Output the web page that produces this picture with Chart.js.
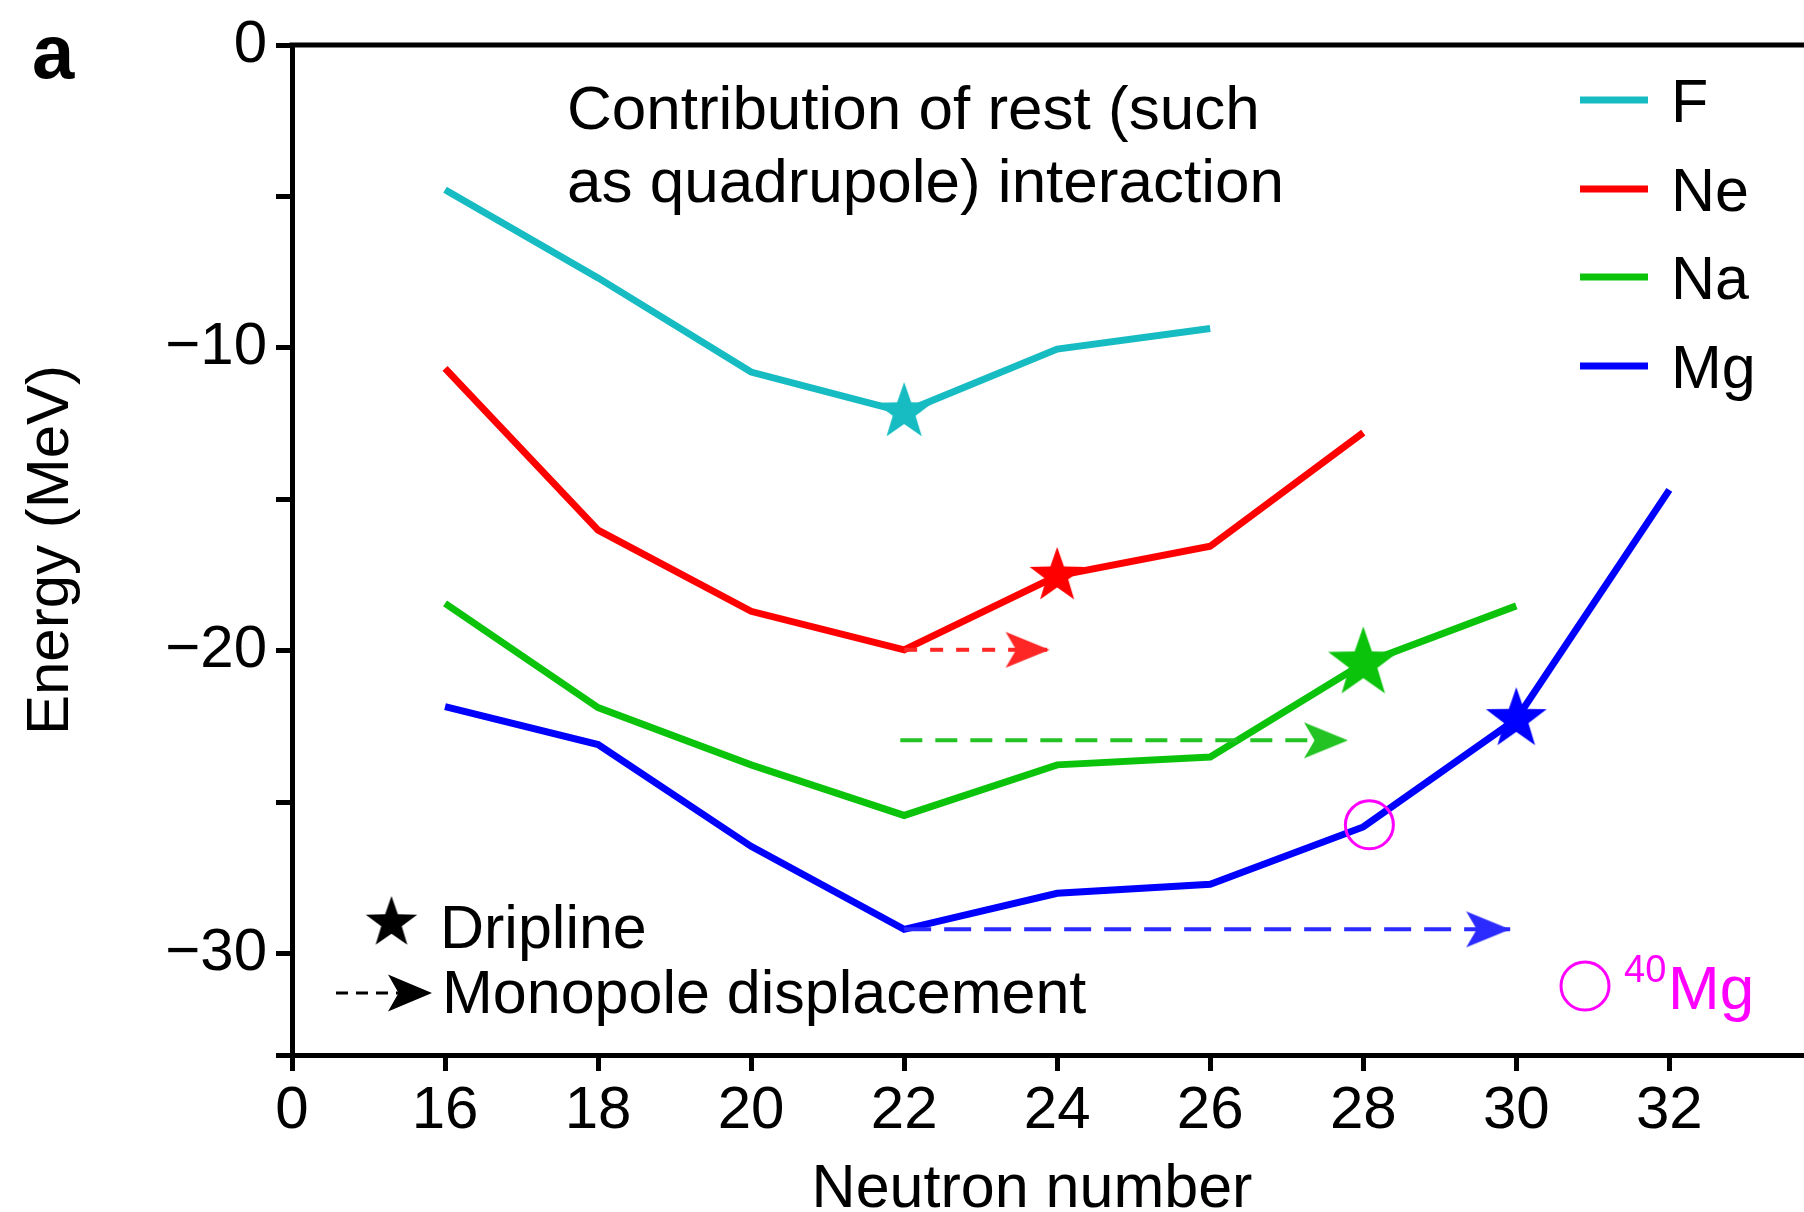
<!DOCTYPE html>
<html>
<head>
<meta charset="utf-8">
<script src="https://cdn.jsdelivr.net/npm/chart.js@4.4.0/dist/chart.umd.min.js"></script>
<style>
  html, body { margin: 0; padding: 0; background: #fff; }
  #wrap { width: 1804px; height: 1212px; }
</style>
</head>
<body>
<div id="wrap"><canvas id="chart" width="1804" height="1212"></canvas></div>
<script>
// Energies (MeV), one value per even neutron number
const neutrons = [16, 18, 20, 22, 24, 26, 28, 30, 32];
const fEnergy  = [-4.78, -7.69, -10.80, -12.12, -10.04, -9.36];
const neEnergy = [-10.68, -16.02, -18.70, -19.97, -17.53, -16.55, -12.80];
const naEnergy = [-18.44, -21.88, -23.77, -25.44, -23.77, -23.51, -20.42, -18.52];
const mgEnergy = [-21.85, -23.10, -26.46, -29.20, -28.01, -27.71, -25.82, -22.26, -14.69];

const elements = ['F', 'Ne', 'Na', 'Mg'];
const driplineN = [22, 24, 28, 30];

// monopole displacement arrows (Ne, Na, Mg)
const arrowStartN = [22, 21.95, 22];
const arrowEndN = [23.9, 27.8, 29.92];
const arrowEnergy = [-19.97, -22.96, -29.2];

// 40Mg experimental point
const mg40N = [28.08];
const mg40Energy = [-25.75];

// axis ticks (x axis is broken: the first tick stands for 0)
const xTickValues = [14, 16, 18, 20, 22, 24, 26, 28, 30, 32];
const xTickLabels = ['0', '16', '18', '20', '22', '24', '26', '28', '30', '32'];
const yTickValues = [0, -5, -10, -15, -20, -25, -30, -33.35];
const yTickLabels = ['0', '', '\u221210', '', '\u221220', '', '\u221230', ''];

const FONT = '"Liberation Sans", Arial, Helvetica, sans-serif';
const lineColors = ['#16bcc2', '#ff0000', '#0cc30c', '#0000ff'];
const arrowColors = ['#ff2626', '#22c322', '#2b2bff'];
const starSizes = [30, 29, 37, 32];
const dashes = [[13, 13], [22, 13], [27, 13]];

function makeStar(color, r) {
  const c = document.createElement('canvas');
  const s = Math.ceil(2 * r + 4);
  c.width = s; c.height = s;
  const g = c.getContext('2d');
  g.fillStyle = color;
  g.beginPath();
  for (let k = 0; k < 10; k++) {
    const rad = k % 2 === 0 ? r : r * 0.4;
    const a = -Math.PI / 2 + k * Math.PI / 5;
    const px = s / 2 + rad * Math.cos(a);
    const py = s / 2 + rad * Math.sin(a);
    k === 0 ? g.moveTo(px, py) : g.lineTo(px, py);
  }
  g.closePath();
  g.fill();
  return c;
}

function arrowPath(g, tx, ty, len, half) {
  g.beginPath();
  g.moveTo(tx, ty);
  g.lineTo(tx - len, ty - half);
  g.lineTo(tx - len * 0.76, ty);
  g.lineTo(tx - len, ty + half);
  g.closePath();
  g.fill();
}

// arrowhead image with the tip at the canvas centre
function makeArrowHead(color) {
  const c = document.createElement('canvas');
  c.width = 96; c.height = 42;
  const g = c.getContext('2d');
  g.fillStyle = color;
  arrowPath(g, 48, 21, 44, 18);
  return c;
}

const series = [fEnergy, neEnergy, naEnergy, mgEnergy];
const datasets = [];

series.forEach((vals, i) => {
  datasets.push({
    label: elements[i],
    data: vals.map((v, j) => ({ x: neutrons[j], y: v })),
    borderColor: lineColors[i],
    borderWidth: 7,
    pointRadius: 0,
    tension: 0,
    order: 3
  });
});

series.forEach((vals, i) => {
  const idx = neutrons.indexOf(driplineN[i]);
  datasets.push({
    label: elements[i] + ' dripline',
    type: 'scatter',
    data: [{ x: driplineN[i], y: vals[idx] }],
    pointStyle: makeStar(lineColors[i], starSizes[i]),
    pointRadius: 10,
    order: 0
  });
});

arrowStartN.forEach((n, i) => {
  const head = makeArrowHead(arrowColors[i]);
  datasets.push({
    label: 'monopole ' + elements[i + 1],
    data: [{ x: n, y: arrowEnergy[i] }, { x: arrowEndN[i], y: arrowEnergy[i] }],
    borderColor: arrowColors[i],
    borderWidth: 4,
    borderDash: dashes[i],
    pointStyle: (ctx) => ctx.dataIndex === 1 ? head : 'circle',
    pointRadius: (ctx) => ctx.dataIndex === 1 ? 10 : 0,
    order: 1
  });
});

datasets.push({
  label: '40Mg',
  type: 'scatter',
  data: mg40N.map((n, i) => ({ x: n, y: mg40Energy[i] })),
  pointStyle: 'circle',
  pointRadius: 24,
  borderColor: '#ff00ff',
  borderWidth: 3,
  backgroundColor: 'rgba(0,0,0,0)',
  order: 0
});

// frame top line, axis title, legends and text notes
const notesPlugin = {
  id: 'notes',
  afterDraw(chart) {
    const ctx = chart.ctx;
    const area = chart.chartArea;
    ctx.save();
    ctx.strokeStyle = '#000';
    ctx.lineWidth = 5;
    ctx.beginPath();
    ctx.moveTo(area.left - 2.5, area.top);
    ctx.lineTo(area.right, area.top);
    ctx.stroke();

    ctx.fillStyle = '#000';
    ctx.textBaseline = 'alphabetic';
    ctx.font = 'bold 76px ' + FONT;
    ctx.fillText('a', 32, 78);

    ctx.font = '61px ' + FONT;
    ctx.textAlign = 'center';
    ctx.fillText('Neutron number', 1032, 1207);
    ctx.textAlign = 'left';

    ctx.font = '62px ' + FONT;
    ctx.fillText('Contribution of rest (such', 567, 129);
    ctx.fillText('as quadrupole) interaction', 567, 202);

    ctx.font = '61px ' + FONT;
    // element legend
    elements.forEach((el, i) => {
      const y = [100, 189, 277, 366][i];
      ctx.strokeStyle = lineColors[i];
      ctx.lineWidth = 7;
      ctx.beginPath();
      ctx.moveTo(1580, y);
      ctx.lineTo(1648, y);
      ctx.stroke();
      ctx.fillStyle = '#000';
      ctx.fillText(el, 1671, y + 22);
    });

    // symbol legend
    ctx.drawImage(makeStar('#000', 27), 391.5 - 29, 923 - 29);
    ctx.fillText('Dripline', 440, 948);
    ctx.strokeStyle = '#000';
    ctx.lineWidth = 3;
    ctx.setLineDash([12, 8]);
    ctx.beginPath();
    ctx.moveTo(336, 993);
    ctx.lineTo(400, 993);
    ctx.stroke();
    ctx.setLineDash([]);
    ctx.fillStyle = '#000';
    arrowPath(ctx, 432, 993, 44, 18.5);
    ctx.fillText('Monopole displacement', 442, 1013);

    // 40Mg legend
    ctx.strokeStyle = '#ff00ff';
    ctx.lineWidth = 3;
    ctx.beginPath();
    ctx.arc(1585, 986, 24, 0, Math.PI * 2);
    ctx.stroke();
    ctx.fillStyle = '#ff00ff';
    ctx.font = '38px ' + FONT;
    ctx.fillText('40', 1624, 982);
    ctx.font = '62px ' + FONT;
    ctx.fillText('Mg', 1668, 1009);
    ctx.restore();
  }
};

Chart.defaults.color = '#000';
Chart.defaults.font.family = FONT;

new Chart(document.getElementById('chart'), {
  type: 'line',
  data: { datasets },
  plugins: [notesPlugin],
  options: {
    responsive: false,
    animation: false,
    layout: { autoPadding: false, padding: { top: 42, right: 0, bottom: 0, left: 0 } },
    plugins: {
      legend: { display: false },
      tooltip: { enabled: false }
    },
    scales: {
      x: {
        type: 'linear',
        min: 14,
        max: 33.76,
        afterBuildTicks: (scale) => { scale.ticks = xTickValues.map(v => ({ value: v })); },
        afterFit: (scale) => { scale.height = 157; },
        ticks: {
          autoSkip: false,
          maxRotation: 0,
          padding: 4,
          font: { size: 60 },
          callback: (v) => xTickLabels[xTickValues.indexOf(v)]
        },
        grid: {
          drawOnChartArea: false,
          tickLength: 16,
          tickWidth: 5,
          tickColor: '#000'
        },
        border: { color: '#000', width: 5 }
      },
      y: {
        min: -33.35,
        max: 0,
        afterBuildTicks: (scale) => { scale.ticks = yTickValues.map(v => ({ value: v })); },
        afterFit: (scale) => { scale.width = 292; },
        ticks: {
          autoSkip: false,
          padding: 9,
          font: { size: 60 },
          callback: (v) => yTickLabels[yTickValues.indexOf(v)]
        },
        grid: {
          drawOnChartArea: false,
          tickLength: 16,
          tickWidth: 5,
          tickColor: '#000'
        },
        border: { color: '#000', width: 5 },
        title: {
          display: true,
          text: 'Energy (MeV)',
          font: { size: 60 },
          padding: { top: 15, bottom: 0 }
        }
      }
    }
  }
});
</script>
</body>
</html>
